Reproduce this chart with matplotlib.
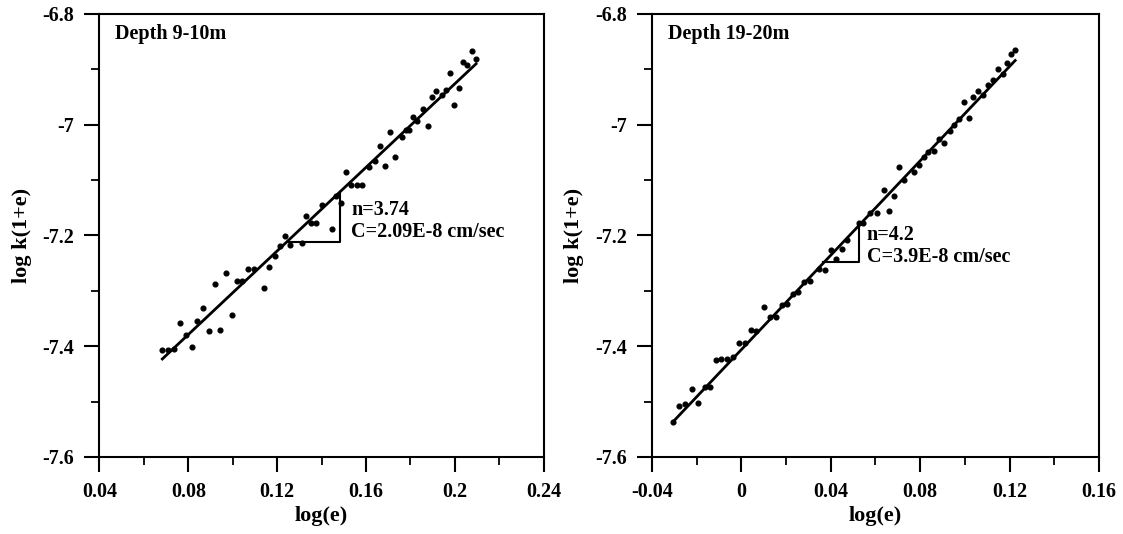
import matplotlib
matplotlib.use("Agg")
import matplotlib.pyplot as plt
from matplotlib.ticker import MultipleLocator, FuncFormatter

plt.rcParams['font.family'] = ['Liberation Serif', 'DejaVu Serif']
plt.rcParams['font.weight'] = 'bold'

# depth 9-10m
left_x = [0.0683, 0.0710, 0.0736, 0.0763, 0.0790, 0.0817, 0.0841, 0.0868, 0.0893, 0.0919,
          0.0943, 0.0970, 0.0996, 0.1019, 0.1042, 0.1068, 0.1095, 0.1142, 0.1165, 0.1189,
          0.1213, 0.1236, 0.1260, 0.1311, 0.1329, 0.1351, 0.1374, 0.1401, 0.1447, 0.1464,
          0.1488, 0.1509, 0.1534, 0.1559, 0.1583, 0.1615, 0.1641, 0.1664, 0.1688, 0.1709,
          0.1731, 0.1761, 0.1781, 0.1796, 0.1814, 0.1832, 0.1856, 0.1879, 0.1897, 0.1917,
          0.1942, 0.1960, 0.1979, 0.1998, 0.2020, 0.2036, 0.2057, 0.2078, 0.2096]
left_y = [-7.407, -7.406, -7.405, -7.358, -7.379, -7.401, -7.354, -7.331, -7.373, -7.288,
          -7.370, -7.267, -7.344, -7.282, -7.282, -7.261, -7.261, -7.294, -7.257, -7.237,
          -7.219, -7.201, -7.217, -7.213, -7.165, -7.177, -7.177, -7.145, -7.189, -7.129,
          -7.141, -7.086, -7.109, -7.109, -7.108, -7.076, -7.066, -7.039, -7.074, -7.014,
          -7.059, -7.022, -7.010, -7.009, -6.986, -6.993, -6.972, -7.003, -6.950, -6.939,
          -6.947, -6.937, -6.907, -6.964, -6.933, -6.887, -6.893, -6.866, -6.882]
left_fit_x = [0.0683, 0.2096]
left_fit_y = [-7.423, -6.890]
left_tri_x = [0.1243, 0.1483, 0.1483]
left_tri_y = [-7.212, -7.212, -7.121]

# depth 19-20m
right_x = [-0.0305, -0.0278, -0.0251, -0.0221, -0.0193, -0.0162, -0.0141, -0.0115, -0.0090, -0.0063,
           -0.0036, -0.0011, 0.0017, 0.0044, 0.0065, 0.0100, 0.0128, 0.0153, 0.0180, 0.0205,
           0.0229, 0.0255, 0.0280, 0.0306, 0.0349, 0.0375, 0.0403, 0.0425, 0.0449, 0.0472,
           0.0525, 0.0543, 0.0577, 0.0605, 0.0638, 0.0662, 0.0683, 0.0706, 0.0729, 0.0772,
           0.0796, 0.0817, 0.0836, 0.0862, 0.0885, 0.0908, 0.0932, 0.0951, 0.0975, 0.0996,
           0.1017, 0.1037, 0.1060, 0.1082, 0.1105, 0.1127, 0.1147, 0.1169, 0.1187, 0.1205, 0.1225]
right_y = [-7.536, -7.508, -7.504, -7.478, -7.502, -7.474, -7.473, -7.424, -7.423, -7.423,
           -7.419, -7.395, -7.395, -7.371, -7.372, -7.329, -7.347, -7.347, -7.325, -7.323,
           -7.305, -7.302, -7.284, -7.282, -7.261, -7.262, -7.227, -7.243, -7.225, -7.208,
           -7.177, -7.177, -7.160, -7.160, -7.118, -7.156, -7.128, -7.077, -7.100, -7.086,
           -7.073, -7.058, -7.049, -7.047, -7.025, -7.033, -7.011, -7.001, -6.989, -6.959,
           -6.987, -6.949, -6.939, -6.946, -6.928, -6.919, -6.900, -6.908, -6.889, -6.873, -6.865]
right_fit_x = [-0.0305, 0.1225]
right_fit_y = [-7.536, -6.884]
right_tri_x = [0.0366, 0.0526, 0.0526]
right_tri_y = [-7.248, -7.248, -7.177]

fig = plt.figure(figsize=(11.23, 5.34), dpi=100)
ax1 = fig.add_axes([0.0886, 0.1442, 0.3954, 0.8296])
ax2 = fig.add_axes([0.5806, 0.1442, 0.398, 0.8296])

fmt = FuncFormatter(lambda v, p: "%g" % round(v, 4))


def draw(ax, xs, ys, fx, fy, tx, ty, xlim, title, n_txt, c_txt, txt_x, txt_y):
    ax.plot(xs, ys, 'o', color='black', markersize=3.4)
    ax.plot(fx, fy, '-', color='black', linewidth=2)
    ax.plot(tx, ty, '-', color='black', linewidth=1.5)
    ax.set_xlim(xlim)
    ax.set_ylim(-7.6, -6.8)
    ax.xaxis.set_major_locator(MultipleLocator(0.04))
    ax.xaxis.set_minor_locator(MultipleLocator(0.02))
    ax.yaxis.set_major_locator(MultipleLocator(0.2))
    ax.yaxis.set_minor_locator(MultipleLocator(0.1))
    ax.xaxis.set_major_formatter(fmt)
    ax.yaxis.set_major_formatter(fmt)
    ax.tick_params(which='major', direction='out', length=11, width=1.5, labelsize=14.5, pad=7)
    ax.tick_params(which='minor', direction='out', length=6, width=1.3)
    for s in ax.spines.values():
        s.set_linewidth(1.5)
    ax.set_xlabel('log(e)', fontsize=16, fontweight='bold', labelpad=3)
    ax.set_ylabel('log k(1+e)', fontsize=16, fontweight='bold', labelpad=8)
    ax.text(0.035, 0.955, title, transform=ax.transAxes, fontsize=14.5,
            fontweight='bold', va='center', ha='left')
    ax.text(txt_x, txt_y, n_txt, fontsize=14.5, fontweight='bold', va='center')
    ax.text(txt_x, txt_y - 0.04, c_txt, fontsize=14.5, fontweight='bold', va='center')


draw(ax1, left_x, left_y, left_fit_x, left_fit_y, left_tri_x, left_tri_y, (0.04, 0.24),
     'Depth 9-10m', 'n=3.74', 'C=2.09E-8 cm/sec', 0.1535, -7.154)
draw(ax2, right_x, right_y, right_fit_x, right_fit_y, right_tri_x, right_tri_y, (-0.04, 0.16),
     'Depth 19-20m', 'n=4.2', 'C=3.9E-8 cm/sec', 0.0560, -7.199)

fig.savefig('out.png', dpi=100)
